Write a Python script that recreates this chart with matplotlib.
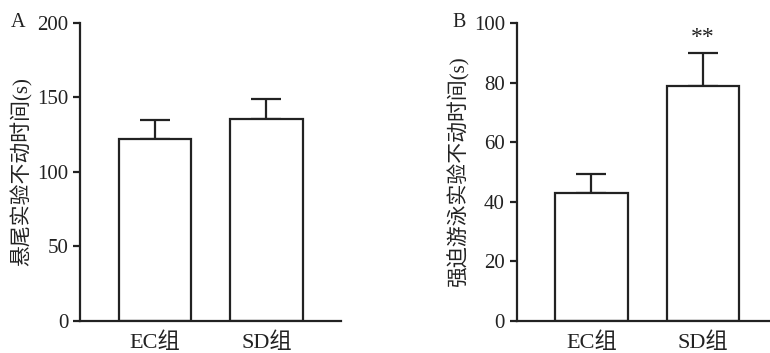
import matplotlib.pyplot as plt

plt.rcParams['font.family'] = ['Liberation Serif', 'Noto Sans CJK SC']

groups = ['EC组', 'SD组']
tail_mean = [122, 135.5]
tail_err = [13, 13.5]
swim_mean = [43, 79]
swim_err = [6.3, 11]

fig = plt.figure(figsize=(7.7, 3.53), dpi=100)
ax1 = fig.add_axes([0.104, 0.091, 0.339, 0.844])
ax2 = fig.add_axes([0.671, 0.091, 0.339, 0.844])

def draw(ax, mean, err, ymax, step, ylabel):
    x = [1, 2]
    ax.bar(x, mean, width=0.65, color='white', edgecolor='#222222',
           linewidth=1.6, zorder=2)
    ax.errorbar(x, mean, yerr=[[0, 0], err], fmt='none', ecolor='#222222',
                elinewidth=1.6, capsize=11, capthick=1.6, zorder=1)
    ax.set_xlim(0.33, 2.67)
    ax.set_ylim(0, ymax)
    ax.set_yticks(range(0, ymax + 1, step))
    ax.set_xticks(x)
    ax.set_xticklabels(groups)
    ax.spines['top'].set_visible(False)
    ax.spines['right'].set_visible(False)
    for s in ['left', 'bottom']:
        ax.spines[s].set_linewidth(1.6)
        ax.spines[s].set_color('#222222')
    ax.tick_params(axis='y', length=5, width=1.6, labelsize=15, colors='#222222')
    ax.tick_params(axis='x', length=0, labelsize=16, pad=8, colors='#222222')
    ax.set_ylabel(ylabel, fontsize=15, color='#222222', labelpad=3)

draw(ax1, tail_mean, tail_err, 200, 50, '悬尾实验不动时间(s)')
draw(ax2, swim_mean, swim_err, 100, 20, '强迫游泳实验不动时间(s)')

ax2.text(2, swim_mean[1] + swim_err[1] + 1.5, '**', ha='center', va='bottom',
         fontsize=17, color='#222222')

fig.text(0.014, 0.935, 'A', fontsize=14.5, va='center', color='#222222')
fig.text(0.588, 0.935, 'B', fontsize=14.5, va='center', color='#222222')

fig.savefig('out.png', dpi=100)
